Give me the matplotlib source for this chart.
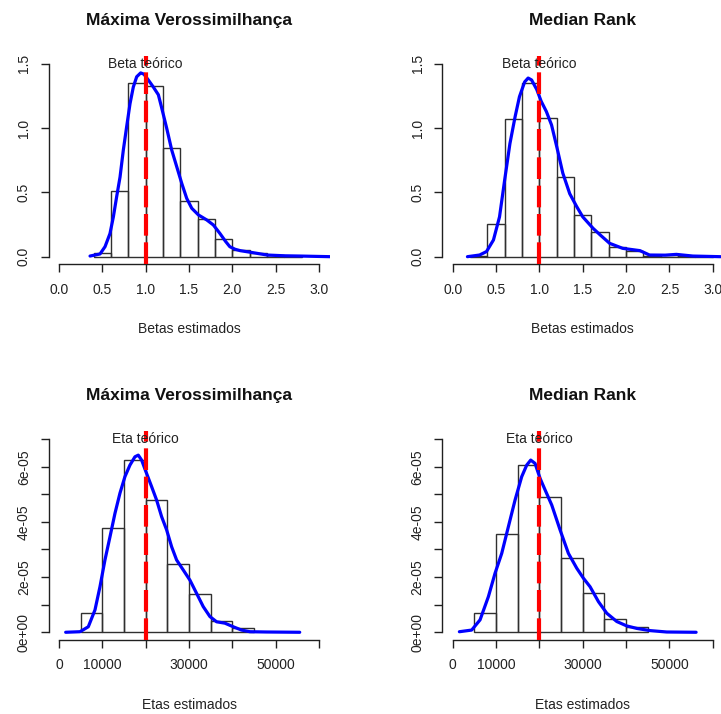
import matplotlib
matplotlib.use("Agg")
import matplotlib.pyplot as plt
import numpy as np

plt.rcParams['font.family'] = ['Liberation Sans', 'DejaVu Sans']

# ---------------- data ----------------
titles = ["Máxima Verossimilhança", "Median Rank", "Máxima Verossimilhança", "Median Rank"]
xlabels = ["Betas estimados", "Betas estimados", "Etas estimados", "Etas estimados"]
ref_labels = ["Beta teórico", "Beta teórico", "Eta teórico", "Eta teórico"]
ref_values = [1.0, 1.0, 20000, 20000]

# Beta, Máxima Verossimilhança
beta_mv_edges = [0.4, 0.6, 0.8, 1.0, 1.2, 1.4, 1.6, 1.8, 2.0, 2.2, 2.4, 2.6, 2.8]
beta_mv_heights = [0.026, 0.515, 1.348, 1.325, 0.843, 0.437, 0.293, 0.135, 0.055, 0.026, 0.012, 0.005]
beta_mv_dx = [0.358, 0.473, 0.531, 0.588, 0.627, 0.665, 0.704, 0.742, 0.78, 0.819, 0.857, 0.896, 0.942,
              0.98, 1.03, 1.088, 1.146, 1.18, 1.242, 1.30, 1.358, 1.416, 1.473, 1.531, 1.608, 1.704,
              1.78, 1.857, 1.92, 1.97, 2.03, 2.09, 2.24, 2.40, 2.60, 2.78, 3.13]
beta_mv_dy = [0.005, 0.021, 0.078, 0.18, 0.31, 0.467, 0.62, 0.83, 1.01, 1.19, 1.32, 1.40, 1.43,
              1.42, 1.375, 1.32, 1.26, 1.17, 1.0, 0.83, 0.70, 0.57, 0.454, 0.377, 0.325, 0.286,
              0.247, 0.18, 0.12, 0.078, 0.058, 0.047, 0.031, 0.013, 0.007, 0.005, 0.0]

# Beta, Median Rank
beta_mr_edges = [0.2, 0.4, 0.6, 0.8, 1.0, 1.2, 1.4, 1.6, 1.8, 2.0, 2.2, 2.4, 2.6, 2.8, 3.0]
beta_mr_heights = [0.005, 0.252, 1.069, 1.35, 1.077, 0.623, 0.324, 0.19, 0.073, 0.047, 0.006, 0.01, 0.005, 0.003]
beta_mr_dx = [0.17, 0.31, 0.39, 0.47, 0.54, 0.60, 0.66, 0.72, 0.77, 0.83, 0.87, 0.91, 0.97, 1.02, 1.08,
              1.14, 1.20, 1.27, 1.35, 1.43, 1.50, 1.62, 1.70, 1.81, 1.96, 2.16, 2.27, 2.45, 2.58, 2.77, 3.09]
beta_mr_dy = [0.0, 0.013, 0.04, 0.13, 0.31, 0.60, 0.88, 1.09, 1.245, 1.36, 1.39, 1.375, 1.30, 1.21, 1.13,
              1.025, 0.856, 0.65, 0.49, 0.39, 0.31, 0.22, 0.17, 0.104, 0.065, 0.047, 0.013, 0.012, 0.018, 0.005, 0.0]

# Eta, Máxima Verossimilhança
eta_mv_edges = [5000, 10000, 15000, 20000, 25000, 30000, 35000, 40000, 45000]
eta_mv_heights = [0.69e-5, 3.77e-5, 6.24e-5, 4.79e-5, 2.47e-5, 1.38e-5, 0.41e-5, 0.14e-5]
eta_mv_dx = [1540, 4840, 6760, 8300, 9450, 10600, 11760, 12910, 14060, 15210, 16370, 17520, 18290,
             19060, 20050, 21360, 22520, 23670, 24830, 25980, 27130, 28650, 30200, 31740, 33270,
             34810, 36350, 38270, 40190, 42110, 44030, 47850, 55530]
eta_mv_dy = [0.0, 0.02e-5, 0.2e-5, 0.81e-5, 1.65e-5, 2.62e-5, 3.46e-5, 4.31e-5, 5.04e-5, 5.64e-5,
             6.06e-5, 6.36e-5, 6.42e-5, 6.24e-5, 5.82e-5, 5.28e-5, 4.79e-5, 4.19e-5, 3.71e-5, 3.10e-5,
             2.62e-5, 2.26e-5, 1.89e-5, 1.41e-5, 0.93e-5, 0.57e-5, 0.38e-5, 0.33e-5, 0.20e-5,
             0.08e-5, 0.02e-5, 0.01e-5, 0.0]

# Eta, Median Rank
eta_mr_edges = [5000, 10000, 15000, 20000, 25000, 30000, 35000, 40000, 45000]
eta_mr_heights = [0.69e-5, 3.55e-5, 6.06e-5, 4.89e-5, 2.70e-5, 1.41e-5, 0.47e-5, 0.18e-5]
eta_mr_dx = [1540, 4380, 6310, 8230, 9770, 11310, 12850, 14380, 15920, 17080, 18000, 19000, 20150,
             21310, 22850, 24770, 26690, 28620, 30150, 31690, 33620, 35540, 37850, 40150, 42460,
             45540, 49380, 56150]
eta_mr_dy = [0.02e-5, 0.08e-5, 0.45e-5, 1.29e-5, 2.14e-5, 2.86e-5, 3.83e-5, 4.79e-5, 5.64e-5, 6.06e-5,
             6.24e-5, 6.12e-5, 5.58e-5, 5.16e-5, 4.61e-5, 3.71e-5, 2.86e-5, 2.32e-5, 1.96e-5, 1.65e-5,
             1.11e-5, 0.69e-5, 0.39e-5, 0.23e-5, 0.14e-5, 0.06e-5, 0.01e-5, 0.0]

beta_xticks = [0.0, 0.5, 1.0, 1.5, 2.0, 2.5, 3.0]
beta_xticklabels = ["0.0", "0.5", "1.0", "1.5", "2.0", "2.5", "3.0"]
beta_yticks = [0.0, 0.5, 1.0, 1.5]
beta_yticklabels = ["0.0", "0.5", "1.0", "1.5"]
eta_xticks = [0, 10000, 20000, 30000, 40000, 50000, 60000]
eta_xticklabels = ["0", "10000", "", "30000", "", "50000", ""]
eta_yticks = [0, 1e-5, 2e-5, 3e-5, 4e-5, 5e-5, 6e-5, 7e-5]
eta_yticklabels = ["0e+00", "", "2e-05", "", "4e-05", "", "6e-05", ""]

panels = [
    (beta_mv_edges, beta_mv_heights, beta_mv_dx, beta_mv_dy, beta_xticks, beta_xticklabels, beta_yticks, beta_yticklabels),
    (beta_mr_edges, beta_mr_heights, beta_mr_dx, beta_mr_dy, beta_xticks, beta_xticklabels, beta_yticks, beta_yticklabels),
    (eta_mv_edges, eta_mv_heights, eta_mv_dx, eta_mv_dy, eta_xticks, eta_xticklabels, eta_yticks, eta_yticklabels),
    (eta_mr_edges, eta_mr_heights, eta_mr_dx, eta_mr_dy, eta_xticks, eta_xticklabels, eta_yticks, eta_yticklabels),
]

# ---------------- layout (pixels) ----------------
W, H = 721, 714
fig = plt.figure(figsize=(W / 100, H / 100), dpi=100)
# (left, top, right, bottom) in pixels
boxes = [(48.6, 56.2, 329.5, 264.4), (442.3, 56.2, 723.2, 264.4),
         (48.6, 431.4, 329.5, 640.0), (442.3, 431.4, 723.2, 640.0)]

px = 0.72  # points per pixel
txt_color = '#222222'

for i, (edges, heights, dx, dy, xt, xtl, yt, ytl) in enumerate(panels):
    l, t, r, b = boxes[i]
    ax = fig.add_axes([l / W, 1 - b / H, (r - l) / W, (b - t) / H])
    xmin, xmax = xt[0], xt[-1]
    pad_x = 0.04 * (xmax - xmin)
    ymin, ymax = yt[0], yt[-1]
    pad_y = 0.04 * (ymax - ymin)
    ax.set_xlim(xmin - pad_x, xmax + pad_x)
    ax.set_ylim(ymin - pad_y, ymax + pad_y)

    widths = np.diff(edges)
    ax.bar(edges[:-1], heights, width=widths, align='edge', facecolor='none',
           edgecolor='#303030', linewidth=1.0, zorder=2)
    ax.plot(dx, dy, color='#0000FF', linewidth=2.3, zorder=3,
            solid_capstyle='round', solid_joinstyle='round')
    ax.axvline(ref_values[i], color='#FF0000', linewidth=3.0, linestyle=(0, (5.2, 1.6)), zorder=4)
    ax.text(ref_values[i], ymax, ref_labels[i], ha='center', va='center', fontsize=10,
            color=txt_color, zorder=5)

    for s in ['top', 'right']:
        ax.spines[s].set_visible(False)
    ax.spines['left'].set_bounds(ymin, ymax)
    ax.spines['bottom'].set_bounds(xmin, xmax)
    for s in ['left', 'bottom']:
        ax.spines[s].set_linewidth(1.0)
        ax.spines[s].set_color('#202020')

    ax.set_xticks(xt)
    ax.set_xticklabels(xtl)
    ax.set_yticks(yt)
    ax.set_yticklabels(ytl, rotation=90, va='center')
    ax.tick_params(axis='both', direction='out', length=8 * px, width=1.0, color='#202020',
                   labelsize=10, labelcolor=txt_color)
    ax.tick_params(axis='x', pad=7.5)
    ax.tick_params(axis='y', pad=7.0)
    ax.patch.set_alpha(0)

    ax.annotate(titles[i], xy=(0.5, 1), xycoords='axes fraction', xytext=(0, 36 * px),
                textcoords='offset points', ha='center', va='center', fontsize=12.5,
                fontweight='bold', color='#111111', annotation_clip=False)
    ax.annotate(xlabels[i], xy=(0.5, 0), xycoords='axes fraction', xytext=(0, -65 * px),
                textcoords='offset points', ha='center', va='center', fontsize=10,
                color=txt_color, annotation_clip=False)

fig.savefig("out.png", dpi=100)
